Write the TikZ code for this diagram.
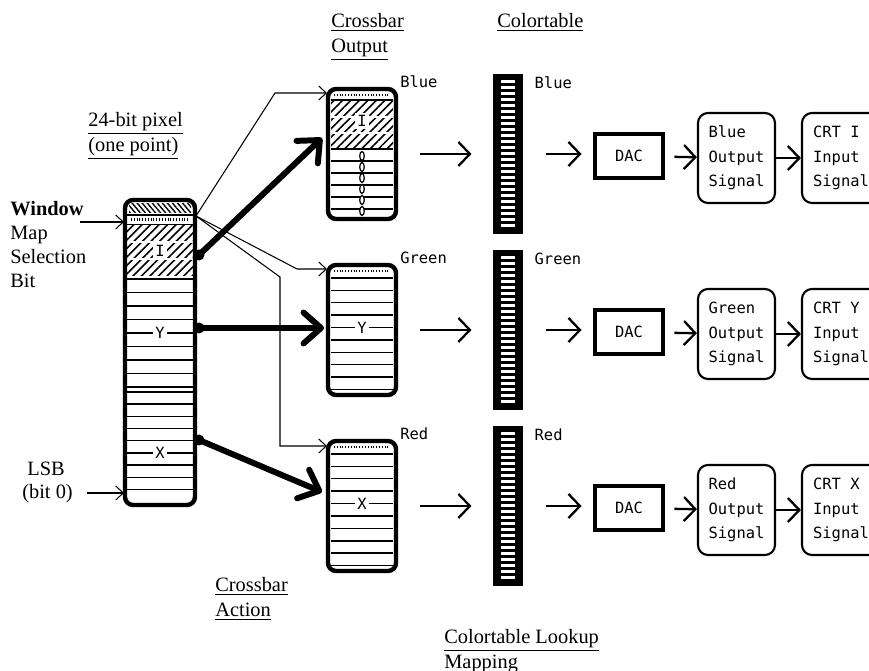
\documentclass[tikz,border=0pt]{standalone}
\usepackage{fontspec}
\setmainfont{Liberation Serif}
\setmonofont{DejaVu Sans Mono}
\usetikzlibrary{arrows.meta,positioning,patterns.meta}
\newcommand{\sigfont}{\fontsize{8.8}{14}\selectfont\ttfamily}
\tikzset{
  thinarrow/.style={-{Straight Barb[length=1.5mm,width=2.8mm]}, line width=0.6pt},
  midarrow/.style={-{Straight Barb[length=2.3mm,width=4.8mm]}, line width=1.3pt},
  heavyarrow/.style={-{Straight Barb[length=3.5mm,width=6.2mm,round]}, line width=3.4pt, line cap=round},
  bitbox/.style={draw, line width=2.5pt, rounded corners=1.6mm, minimum width=13.6mm, minimum height=26mm, inner sep=0pt},
  tablebox/.style={draw, fill=black, line width=0.6pt, minimum width=5.6mm, minimum height=31.6mm, inner sep=0pt},
  dacbox/.style={draw, line width=2.8pt, minimum width=13.6mm, minimum height=8.8mm, font=\sigfont},
  sigbox/.style={draw, line width=1.2pt, rounded corners=2mm, minimum width=15.4mm, minimum height=18mm, align=left, inner sep=1pt, font=\sigfont},
  chanlbl/.style={font=\sigfont, inner sep=1pt},
  fieldlbl/.style={font=\sigfont, fill=white, inner sep=1.2pt},
  ttl/.style={anchor=north west, align=left, inner sep=0pt, font=\fontsize{11.6}{14.2}\selectfont},
  stripe/.style={line width=0.8pt},
  dotstrip/.style={line width=1.3pt, dash pattern=on 0.5pt off 1.1pt},
  hatchI/.style={pattern={Lines[angle=45,distance=3.4pt,line width=0.9pt]}},
}

\begin{document}
\begin{tikzpicture}[x=0.02cm, y=-0.02cm]
  \useasboundingbox (0,0) rectangle (869,671);
  \clip (0,0) rectangle (869,671);

  % titles
  \node[ttl] (tcross) at (331,13) {\underline{Crossbar}\\\underline{Output}};
  \node[ttl] (ttable) at (497,13) {\underline{Colortable}};
  \node[ttl] (tpixel) at (88,112) {\underline{24-bit pixel}\\\underline{(one point)}};
  \node[ttl] (taction) at (215,577) {\underline{Crossbar}\\\underline{Action}};
  \node[ttl] (tlookup) at (444,629) {\underline{Colortable Lookup}\\\underline{Mapping}};
  \node[ttl, font=\fontsize{11.6}{13.6}\selectfont] (twin) at (10,201) {\textbf{Window}\\Map\\Selection\\Bit};
  \node[ttl, font=\fontsize{11.6}{13}\selectfont] (tlsb) at (22,462) {\ LSB\\(bit 0)};

  % 24-bit pixel
  \fill[pattern={Lines[angle=-50,distance=2.2pt,line width=0.8pt]}] (129,204) rectangle (191,213);
  \draw[stripe] (127,215) -- (193,215);
  \draw[dotstrip] (131,219.5) -- (189,219.5);
  \draw[stripe] (127,224.5) -- (193,224.5);
  \fill[hatchI] (127,226) rectangle (193,276);
  \draw[white, line width=1.2pt] (127,242) -- (193,242);
  \draw[white, line width=1.2pt] (127,259) -- (193,259);
  \node[fieldlbl] (fI) at (160,251) {I};
  \foreach \k in {0,...,8}
    \draw[stripe] (127,{279+13.5*\k}) -- (193,{279+13.5*\k});
  \foreach \k in {0,...,8}
    \draw[stripe] (127,{392+12.2*\k}) -- (193,{392+12.2*\k});
  \node[fieldlbl] (fY) at (160,333) {Y};
  \node[fieldlbl] (fX) at (160,453) {X};
  \node[bitbox, minimum width=14mm, minimum height=61mm] (pix) at (160,352.5) {};

  % crossbar outputs
  \draw[dotstrip] (334,95) -- (390,95);
  \draw[stripe] (331,100) -- (393,100);
  \fill[hatchI] (331,101) rectangle (393,148);
  \draw[white, line width=1.2pt] (331,117) -- (393,117);
  \draw[white, line width=1.2pt] (331,133) -- (393,133);
  \node[fieldlbl] (fIB) at (362,121) {I};
  \draw[line width=1pt] (331,149) -- (393,149);
  \foreach \k in {1,...,5}
    \draw[stripe] (331,{149+12*\k}) -- (393,{149+12*\k});
  \foreach \k in {0,...,5}
    \draw[line width=0.7pt, fill=white] (362,{156+11*\k}) ellipse (0.45mm and 0.9mm);
  \node[bitbox] (cbB) at (362,154) {};
  \node[chanlbl, anchor=south west, yshift=-0.6mm] at (cbB.north east) {Blue};

  \draw[dotstrip] (334,271) -- (390,271);
  \foreach \k in {0,...,9}
    \draw[stripe] (331,{278+12.4*\k}) -- (393,{278+12.4*\k});
  \node[fieldlbl] (fYG) at (362,327.6) {Y};
  \node[bitbox] (cbG) at (362,330) {};
  \node[chanlbl, anchor=south west, yshift=-0.6mm] at (cbG.north east) {Green};

  \draw[dotstrip] (334,447) -- (390,447);
  \foreach \k in {0,...,9}
    \draw[stripe] (331,{454+12.4*\k}) -- (393,{454+12.4*\k});
  \node[fieldlbl] (fXR) at (362,503.6) {X};
  \node[bitbox] (cbR) at (362,506) {};
  \node[chanlbl, anchor=south west, yshift=-0.6mm] at (cbR.north east) {Red};

  % colortables
  \node[tablebox] (ctB) at (508,154) {};
  \node[tablebox] (ctG) at (508,330) {};
  \node[tablebox] (ctR) at (508,506) {};
  \foreach \r in {154,330,506}
    \foreach \k in {0,...,24}
      \fill[white] (501,{\r-74+6*\k}) rectangle (515,{\r-70.6+6*\k});
  \node[chanlbl, anchor=north west, xshift=2mm] at (ctB.north east) {Blue};
  \node[chanlbl, anchor=north west, xshift=2mm] at (ctG.north east) {Green};
  \node[chanlbl, anchor=north west, xshift=2mm] at (ctR.north east) {Red};

  % DACs and signals
  \node[dacbox] (dacB) at (629,156) {DAC};
  \node[dacbox] (dacG) at (629,332) {DAC};
  \node[dacbox] (dacR) at (629,508) {DAC};
  \node[sigbox] (outB) at (736.5,158) {Blue\\Output\\Signal};
  \node[sigbox] (outG) at (736.5,334) {Green\\Output\\Signal};
  \node[sigbox] (outR) at (736.5,510) {Red\\Output\\Signal};
  \node[sigbox, minimum width=15.6mm] (crtB) at (841,158) {CRT I\\Input\\Signal};
  \node[sigbox, minimum width=15.6mm] (crtG) at (841,334) {CRT Y\\Input\\Signal};
  \node[sigbox, minimum width=15.6mm] (crtR) at (841,510) {CRT X\\Input\\Signal};

  % side arrows
  \coordinate (winA) at (80,222);
  \coordinate (selIn) at (124,222);
  \coordinate (lsbA) at (87,493);
  \coordinate (lsbIn) at (124,493);
  \draw[thinarrow] (winA) -- (selIn);
  \draw[thinarrow] (lsbA) -- (lsbIn);

  % window map selection wires
  \coordinate (selbit) at (196,216);
  \coordinate (selB) at (327,93);
  \coordinate (selG) at (327,269);
  \coordinate (selR) at (327,446);
  \draw[thinarrow] (selbit) -- (275,93) -- (selB);
  \draw[thinarrow] (selbit) -- (297,269) -- (selG);
  \draw[thinarrow] (selbit) -- (280,277) |- (selR);

  % crossbar action
  \coordinate (dotI) at (199,255);
  \coordinate (dotY) at (199,328);
  \coordinate (dotX) at (199,440);
  \coordinate (tipI) at (322,138);
  \coordinate (tipY) at (324,328);
  \coordinate (tipX) at (322,492);
  \draw[heavyarrow] (dotI) -- (tipI);
  \draw[heavyarrow] (dotY) -- (tipY);
  \draw[heavyarrow] (dotX) -- (tipX);
  \fill (dotI) circle (1.1mm);
  \fill (dotY) circle (1.1mm);
  \fill (dotX) circle (1.1mm);

  % lookup path
  \draw[midarrow, shorten <=4.4mm, shorten >=4.4mm] (cbB) -- (ctB);
  \draw[midarrow, shorten <=4.4mm, shorten >=4.4mm] (cbG) -- (ctG);
  \draw[midarrow, shorten <=4.4mm, shorten >=4.4mm] (cbR) -- (ctR);
  \draw[midarrow, shorten <=4.6mm, shorten >=2.2mm] (ctB.east) -- (ctB.east -| dacB.west);
  \draw[midarrow, shorten <=4.6mm, shorten >=2.2mm] (ctG.east) -- (ctG.east -| dacG.west);
  \draw[midarrow, shorten <=4.6mm, shorten >=2.2mm] (ctR.east) -- (ctR.east -| dacR.west);
  \draw[midarrow, shorten <=1.8mm] (dacB) -- (outB);
  \draw[midarrow, shorten <=1.8mm] (dacG) -- (outG);
  \draw[midarrow, shorten <=1.8mm] (dacR) -- (outR);
  \draw[midarrow] (outB) -- (crtB);
  \draw[midarrow] (outG) -- (crtG);
  \draw[midarrow] (outR) -- (crtR);
\end{tikzpicture}
\end{document}
